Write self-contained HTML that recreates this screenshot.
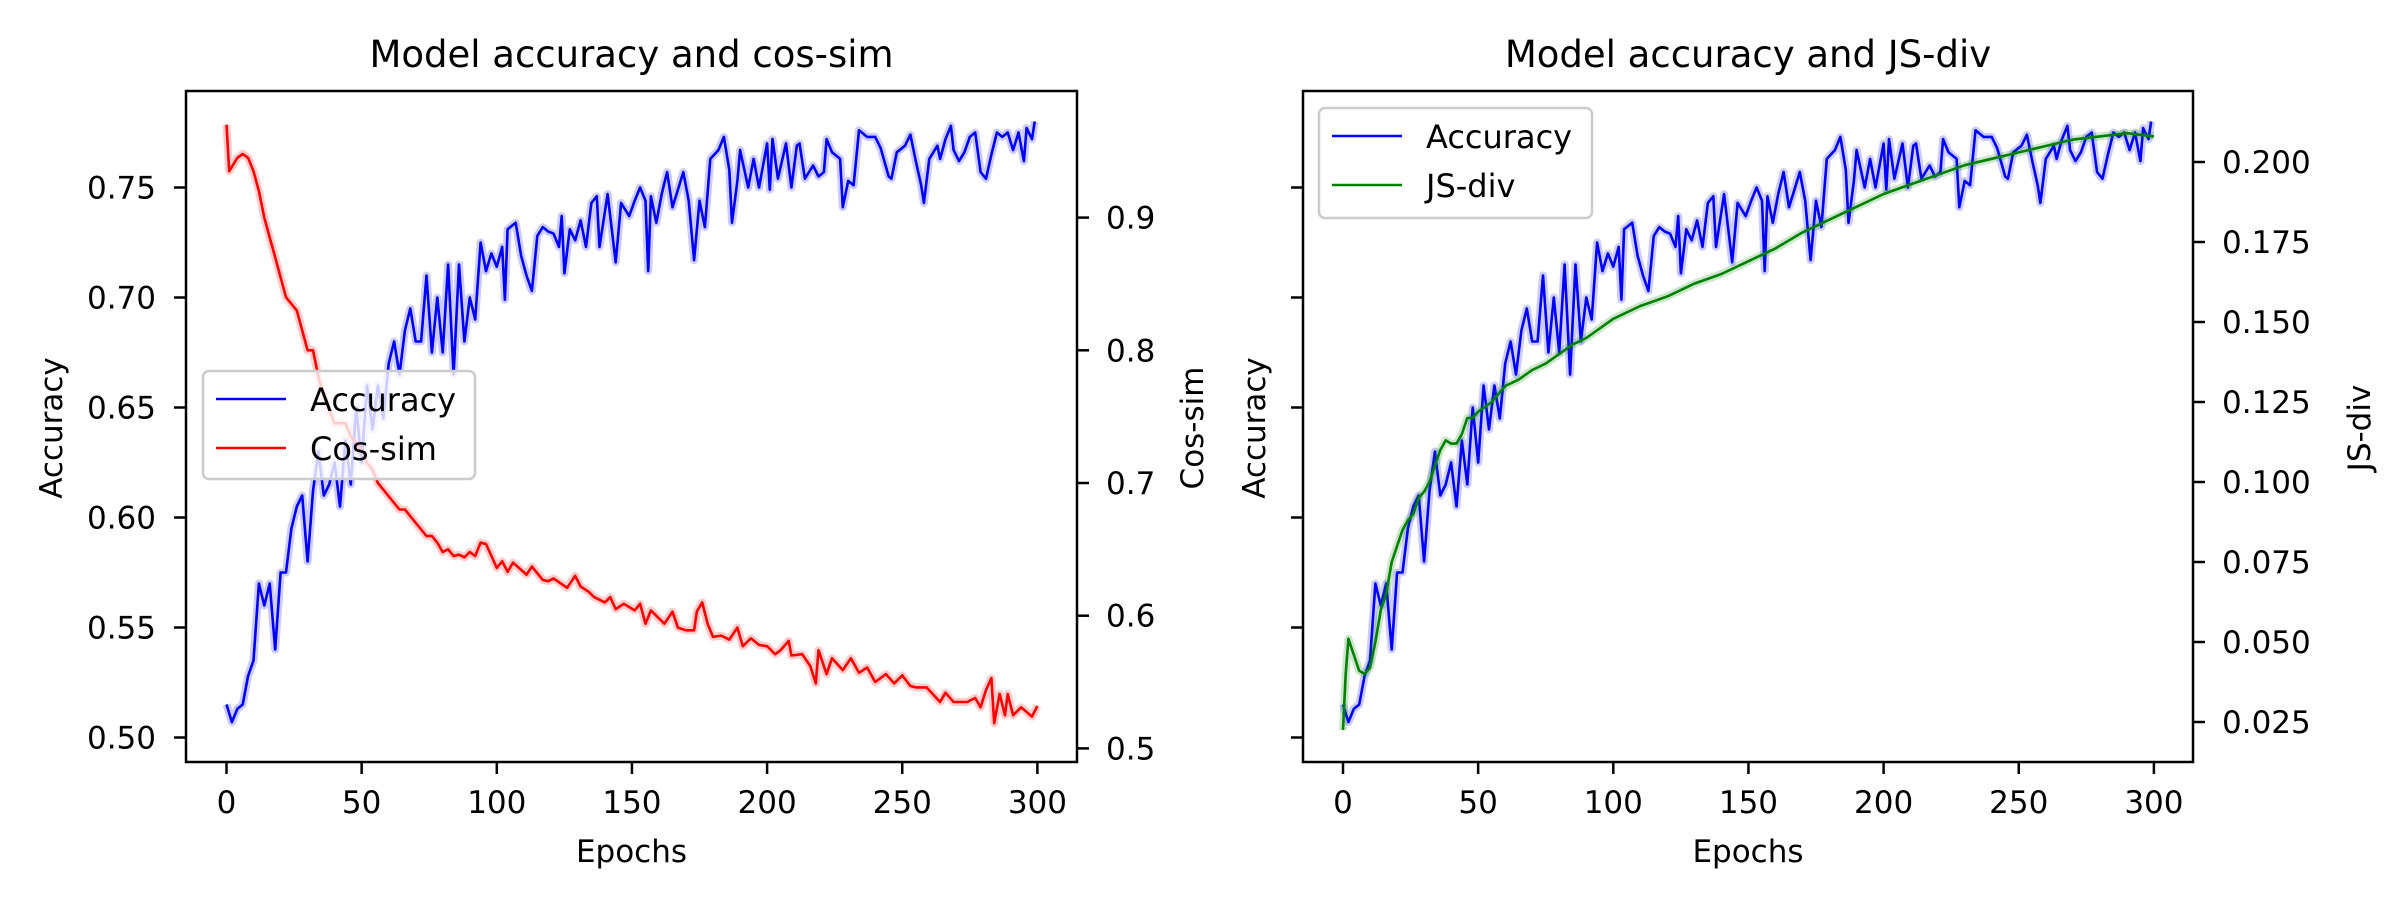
<!DOCTYPE html>
<html><head><meta charset="utf-8"><style>
html,body{margin:0;padding:0;background:#fff;}
svg{display:block;font-family:"DejaVu Sans","Liberation Sans",sans-serif;}
</style></head><body>
<svg id="fig" width="2400" height="900" viewBox="0 0 2400 900" xmlns="http://www.w3.org/2000/svg"></svg>
<script>
const epochsAcc = [0,2,4,6,8,10,12,14,16,18,20,22,24,26,28,30,32,34,36,38,40,42,44,46,48,50,52,54,56,58,60,62,64,66,68,70,72,74,76,78,80,82,84,86,88,90,92,
94,96,98,100,102,103,104,107,109,111,113,115,117,119,121,123,124,125,127,129,131,133,135,137,138,141,144,146,149,151,153,155,156,157,159,161,163,165,167,169,171,173,175,177,179,182,184,186,187,189,190,193,195,197,200,201,202,204,207,209,211,212,214,217,219,221,222,224,227,228,230,232,234,237,240,242,245,246,248,251,253,255,257,258,260,263,264,266,268,269,271,273,275,277,279,281,283,285,287,289,291,293,295,296,298,299];
const accuracy = [0.515,0.507,0.513,0.515,0.528,0.535,0.57,0.56,0.57,0.54,0.575,0.575,0.595,0.605,0.61,0.58,0.612,0.63,0.61,0.615,0.625,0.605,0.635,0.615,0.65,0.625,0.66,0.64,0.66,0.645,0.67,0.68,0.665,0.685,0.695,0.68,0.68,0.71,0.675,0.70,0.675,0.715,0.665,0.715,0.68,0.70,0.69,
0.725,0.712,0.72,0.714,0.723,0.699,0.731,0.734,0.719,0.71,0.703,0.728,0.732,0.73,0.729,0.723,0.737,0.711,0.731,0.726,0.735,0.723,0.743,0.746,0.723,0.747,0.716,0.743,0.737,0.744,0.75,0.744,0.712,0.746,0.734,0.747,0.757,0.741,0.749,0.757,0.744,0.717,0.744,0.732,0.763,0.767,0.773,0.758,0.734,0.753,0.767,0.75,0.763,0.75,0.77,0.749,0.772,0.754,0.77,0.75,0.769,0.77,0.754,0.76,0.755,0.757,0.772,0.766,0.763,0.741,0.753,0.751,0.776,0.773,0.773,0.768,0.755,0.754,0.766,0.769,0.774,0.762,0.751,0.743,0.763,0.769,0.763,0.772,0.778,0.767,0.762,0.766,0.773,0.775,0.757,0.754,0.765,0.775,0.773,0.775,0.767,0.775,0.762,0.777,0.772,0.78];
const epochsCos = [0,1,4,6,8,10,12,14,16,18,20,22,24,26,28,30,32,34,36,38,40,42,44,46,48,50,52,54,56,58,60,62,64,66,68,70,72,74,76,78,80,82,84,86,88,90,92,94,96,100,102,104,106,111,113,117,119,121,126,129,131,134,136,140,142,144,147,151,153,155,157,162,165,167,170,173,174,176,178,180,183,186,189,191,194,197,200,203,205,208,209,213,216,218,219,222,224,228,231,234,237,240,244,247,250,253,255,259,264,266,269,274,277,279,281,283,284,286,288,289,291,294,298,300];
const cosSim = [0.97,0.935,0.945,0.948,0.945,0.935,0.92,0.90,0.885,0.87,0.855,0.84,0.835,0.83,0.815,0.80,0.80,0.78,0.765,0.755,0.745,0.745,0.745,0.735,0.73,0.725,0.715,0.71,0.70,0.695,0.69,0.685,0.68,0.68,0.675,0.67,0.665,0.66,0.66,0.655,0.648,0.65,0.645,0.646,0.644,0.648,0.645,0.655,0.654,0.636,0.641,0.633,0.64,0.631,0.637,0.627,0.626,0.628,0.621,0.63,0.622,0.618,0.614,0.61,0.614,0.605,0.609,0.604,0.609,0.594,0.604,0.594,0.603,0.591,0.589,0.589,0.603,0.61,0.594,0.584,0.585,0.582,0.591,0.577,0.583,0.578,0.577,0.571,0.574,0.581,0.57,0.571,0.562,0.549,0.574,0.556,0.568,0.559,0.568,0.557,0.561,0.55,0.556,0.549,0.555,0.547,0.546,0.546,0.535,0.542,0.535,0.535,0.538,0.531,0.544,0.553,0.519,0.541,0.525,0.541,0.525,0.531,0.524,0.532];
const epochsJs = [0,1,2,4,6,8,10,12,14,16,18,20,22,24,26,28,30,32,34,36,38,40,42,44,46,48,50,55,60,65,70,75,80,85,90,100,110,120,130,140,150,160,170,180,190,200,210,220,230,240,250,260,270,280,290,300];
const jsDiv = [0.0225,0.04,0.051,0.046,0.041,0.04,0.042,0.05,0.06,0.065,0.075,0.08,0.085,0.088,0.09,0.095,0.097,0.10,0.105,0.11,0.113,0.112,0.112,0.115,0.12,0.12,0.122,0.125,0.13,0.132,0.135,0.137,0.14,0.143,0.145,0.151,0.155,0.158,0.162,0.165,0.169,0.173,0.178,0.182,0.186,0.19,0.193,0.196,0.199,0.201,0.203,0.205,0.207,0.208,0.209,0.208];
const accTicks = [0.50,0.55,0.60,0.65,0.70,0.75];
const cosTicks = [0.5,0.6,0.7,0.8,0.9];
const jsTicks = [0.025,0.050,0.075,0.100,0.125,0.150,0.175,0.200];
const xTicks = [0,50,100,150,200,250,300];

const NS="http://www.w3.org/2000/svg";
const svg=document.getElementById('fig');
function mk(tag,attrs,parent){const e=document.createElementNS(NS,tag);for(const k in attrs)e.setAttribute(k,attrs[k]);(parent||svg).appendChild(e);return e;}
function txt(s,attrs,parent){const e=mk('text',attrs,parent);e.textContent=s;return e;}

const yAcc=v=>737.5-(v-0.50)/0.05*110;
const yCos=v=>748.4-(v-0.5)/0.1*132.7;
const yJs=v=>722-(v-0.025)/0.025*80;
function xL(e){return 226.5+e*2.703;}
function xR(e){return 1343+e*2.703;}
const FS=31;

function line(xs,ys,xf,yf,color,name){
  const g=mk('g',{});
  
  
  let d='';xs.forEach((x,i)=>{d+=(i?'L':'M')+xf(x).toFixed(1)+','+yf(ys[i]).toFixed(1);});
  mk('path',{d:d,fill:'none',stroke:color,'stroke-opacity':0.2,'stroke-width':8,'stroke-linejoin':'round'},g);
  mk('path',{d:d,fill:'none',stroke:color,'stroke-width':2.6,'stroke-linejoin':'round'},g);
}

function axes(x0,x1,xf,prefix,title,leftLabels,rightTicks,rf,rightLabelFmt,rightTitle,rightTitleX,leftTitleX){
  const g=mk('g',{});
  
  
  mk('rect',{x:x0,y:91,width:x1-x0,height:671,fill:'none',stroke:'#000','stroke-width':2.5},g);
  xTicks.forEach(t=>{const x=xf(t);mk('line',{x1:x,y1:762,x2:x,y2:774,stroke:'#000','stroke-width':2.5},g);
    const l=txt(String(t),{x:x,y:813,'text-anchor':'middle','font-size':FS},g);
    
    });
  accTicks.forEach(t=>{const y=yAcc(t);mk('line',{x1:x0,y1:y,x2:x0-12,y2:y,stroke:'#000','stroke-width':2.5},g);
    if(leftLabels){const l=txt(t.toFixed(2),{x:x0-30,y:y+11,'text-anchor':'end','font-size':FS},g);
    
    }});
  rightTicks.forEach(t=>{const y=rf(t);mk('line',{x1:x1,y1:y,x2:x1+12,y2:y,stroke:'#000','stroke-width':2.5},g);
    const l=txt(rightLabelFmt(t),{x:x1+29,y:y+11,'font-size':FS},g);
    
    });
  const tt=txt(title,{x:(x0+x1)/2,y:67,'text-anchor':'middle','font-size':37},g);
  
  
  const xl=txt('Epochs',{x:(x0+x1)/2,y:862,'text-anchor':'middle','font-size':FS},g);
  
  
  const yl=txt('Accuracy',{x:0,y:0,'text-anchor':'middle','font-size':FS,transform:`translate(${leftTitleX},428) rotate(-90)`},g);
  
  
  const rl=txt(rightTitle,{x:0,y:0,'text-anchor':'middle','font-size':FS,transform:`translate(${rightTitleX},428) rotate(-90)`},g);
  
  
}

function legend(x,y,w,h,entries,name){
  const g=mk('g',{});
  
  
  mk('rect',{x:x,y:y,width:w,height:h,rx:6,fill:'#fff','fill-opacity':0.8,stroke:'#ccc','stroke-width':2.5},g);
  entries.forEach((en,i)=>{const cy=y+28+i*49;
    mk('line',{x1:x+13,y1:cy,x2:x+83,y2:cy,stroke:en[1],'stroke-width':2.6},g);
    const t=txt(en[0],{x:x+107,y:cy+12,'font-size':32},g);
    
    });
}

// left chart
axes(186,1077,xL,'cos-sim-chart','Model accuracy and cos-sim',true,cosTicks,yCos,t=>t.toFixed(1),'Cos-sim',1203,62);
line(epochsAcc,accuracy,xL,yAcc,'#0000ff','accuracy-line-left');
line(epochsCos,cosSim,xL,yCos,'#ff0000','cos-sim-line');
legend(203,371,272,108,[['Accuracy','#0000ff'],['Cos-sim','#ff0000']],'legend-left');

// right chart
axes(1303,2193,xR,'js-div-chart','Model accuracy and JS-div',false,jsTicks,yJs,t=>t.toFixed(3),'JS-div',2370,1265);
line(epochsAcc,accuracy,xR,yAcc,'#0000ff','accuracy-line-right');
line(epochsJs,jsDiv,xR,yJs,'#008000','js-div-line');
legend(1319,108,273,110,[['Accuracy','#0000ff'],['JS-div','#008000']],'legend-right');
</script>
</body></html>
